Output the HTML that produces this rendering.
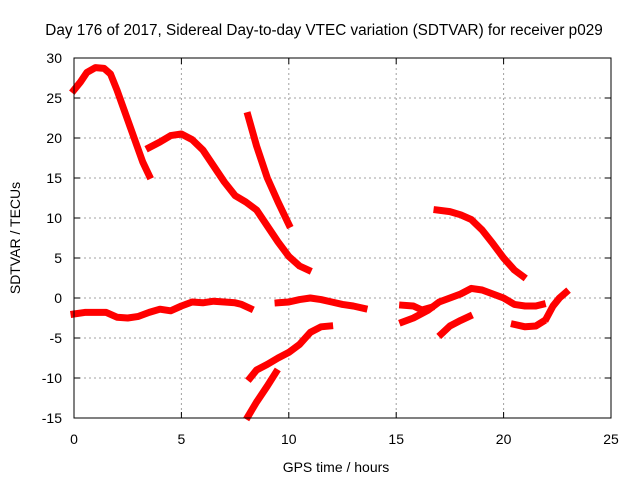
<!DOCTYPE html>
<html><head><meta charset="utf-8"><style>
body{margin:0;background:#fff;}
svg{display:block;font-family:"Liberation Sans",sans-serif;}
</style></head><body>
<svg id="chart" width="640" height="480">
<text x="324" y="35" font-size="15.3" text-anchor="middle">Day 176 of 2017, Sidereal Day-to-day VTEC variation (SDTVAR) for receiver p029</text>
<text x="336" y="472" font-size="14" text-anchor="middle">GPS time / hours</text>
<text transform="translate(20,238) rotate(-90)" font-size="14" text-anchor="middle">SDTVAR / TECUs</text>
<g id="grid"></g><g id="series"></g><g id="axes"></g>
</svg>
<script>
const xTicks=[0,5,10,15,20,25];
const yTicks=[-15,-10,-5,0,5,10,15,20,25,30];
const seg1=[[0,26],[0.3,27],[0.6,28.2],[1,28.8],[1.4,28.7],[1.7,28],[2,26],[2.4,23],[2.8,20],[3.2,17],[3.5,15.3]];
const seg2=[[3.5,18.8],[4,19.5],[4.5,20.3],[5,20.5],[5.5,19.8],[6,18.5],[6.5,16.5],[7,14.5],[7.5,12.8],[8,12],[8.5,11],[9,9],[9.5,7],[10,5.2],[10.5,4],[10.9,3.5]];
const seg3=[[8.1,22.8],[8.5,19],[9,15],[9.5,12],[10,9.2]];
const seg4=[[0,-2],[0.5,-1.8],[1,-1.8],[1.5,-1.8],[2,-2.4],[2.5,-2.5],[3,-2.3],[3.5,-1.8],[4,-1.4],[4.5,-1.6],[5,-1],[5.5,-0.5],[6,-0.6],[6.5,-0.4],[7,-0.5],[7.5,-0.6],[7.8,-0.8],[8.2,-1.3]];
const seg5=[[9.5,-0.6],[10,-0.5],[10.5,-0.2],[11,0],[11.5,-0.2],[12,-0.5],[12.5,-0.8],[13,-1],[13.5,-1.3]];
const seg6=[[8.2,-10],[8.5,-9],[9,-8.3],[9.5,-7.5],[10,-6.8],[10.5,-5.8],[11,-4.3],[11.5,-3.6],[11.9,-3.5]];
const seg7=[[8.1,-14.8],[8.5,-13],[9,-11],[9.4,-9.3]];
const seg8=[[16.9,11],[17.5,10.8],[18,10.4],[18.5,9.8],[19,8.5],[19.5,6.8],[20,5],[20.5,3.5],[20.9,2.7]];
const seg9=[[15.3,-3],[15.8,-2.5],[16.5,-1.5],[17,-0.5],[17.5,0],[18,0.5],[18.5,1.2],[19,1],[19.5,0.5],[20,0],[20.5,-0.8],[21,-1],[21.5,-1],[21.8,-0.8]];
const seg10=[[15.3,-0.9],[15.8,-1],[16.2,-1.5],[16.6,-1.2]];
const seg11=[[17.1,-4.5],[17.5,-3.5],[18,-2.8],[18.4,-2.3]];
const seg12=[[20.5,-3.3],[21,-3.6],[21.5,-3.5],[21.8,-3]];
const seg13=[[22,-2.5],[22.3,-1],[22.6,0],[22.9,0.7]];
const segments=[seg1,seg2,seg3,seg4,seg5,seg6,seg7,seg8,seg9,seg10,seg11,seg12,seg13];
const L=74,R=611,T=58,B=418;
const sx=v=>L+(v-0)/25*(R-L);
const sy=v=>B-(v+15)/45*(B-T);
const NS="http://www.w3.org/2000/svg";
const grid=document.getElementById('grid'),axes=document.getElementById('axes'),ser=document.getElementById('series');
function mk(tag,attrs,parent){const e=document.createElementNS(NS,tag);for(const k in attrs)e.setAttribute(k,attrs[k]);parent.appendChild(e);return e;}
xTicks.forEach(t=>{const x=sx(t);
 if(t>0&&t<25){const g=mk('line',{x1:x,x2:x,y1:T,y2:B,stroke:'#a0a0a0','stroke-dasharray':'2,3'},grid);
 
 }
 mk('line',{x1:x,x2:x,y1:B,y2:B-6,stroke:'#000'},axes);mk('line',{x1:x,x2:x,y1:T,y2:T+6,stroke:'#000'},axes);
 const tx=mk('text',{x:x,y:444,'font-size':14,'text-anchor':'middle'},axes);tx.textContent=t;
 
 
});
yTicks.forEach(t=>{const y=sy(t);
 if(t>-15&&t<30){const g=mk('line',{x1:L,x2:R,y1:y,y2:y,stroke:'#a0a0a0','stroke-dasharray':'2,3'},grid);
 
 }
 mk('line',{x1:L,x2:L+6,y1:y,y2:y,stroke:'#000'},axes);mk('line',{x1:R,x2:R-6,y1:y,y2:y,stroke:'#000'},axes);
 const tx=mk('text',{x:62,y:y+5,'font-size':14,'text-anchor':'end'},axes);tx.textContent=t;
 
 
});
const fr=mk('rect',{x:L,y:T,width:R-L,height:B-T,fill:'none',stroke:'#000','stroke-width':1},axes);


segments.forEach(s=>{const p=mk('polyline',{points:s.map(d=>sx(d[0])+','+sy(d[1])).join(' '),fill:'none',stroke:'#ff0000','stroke-width':7,'stroke-linejoin':'round','stroke-linecap':'square'},ser);
 
 
});
</script>
</body></html>
